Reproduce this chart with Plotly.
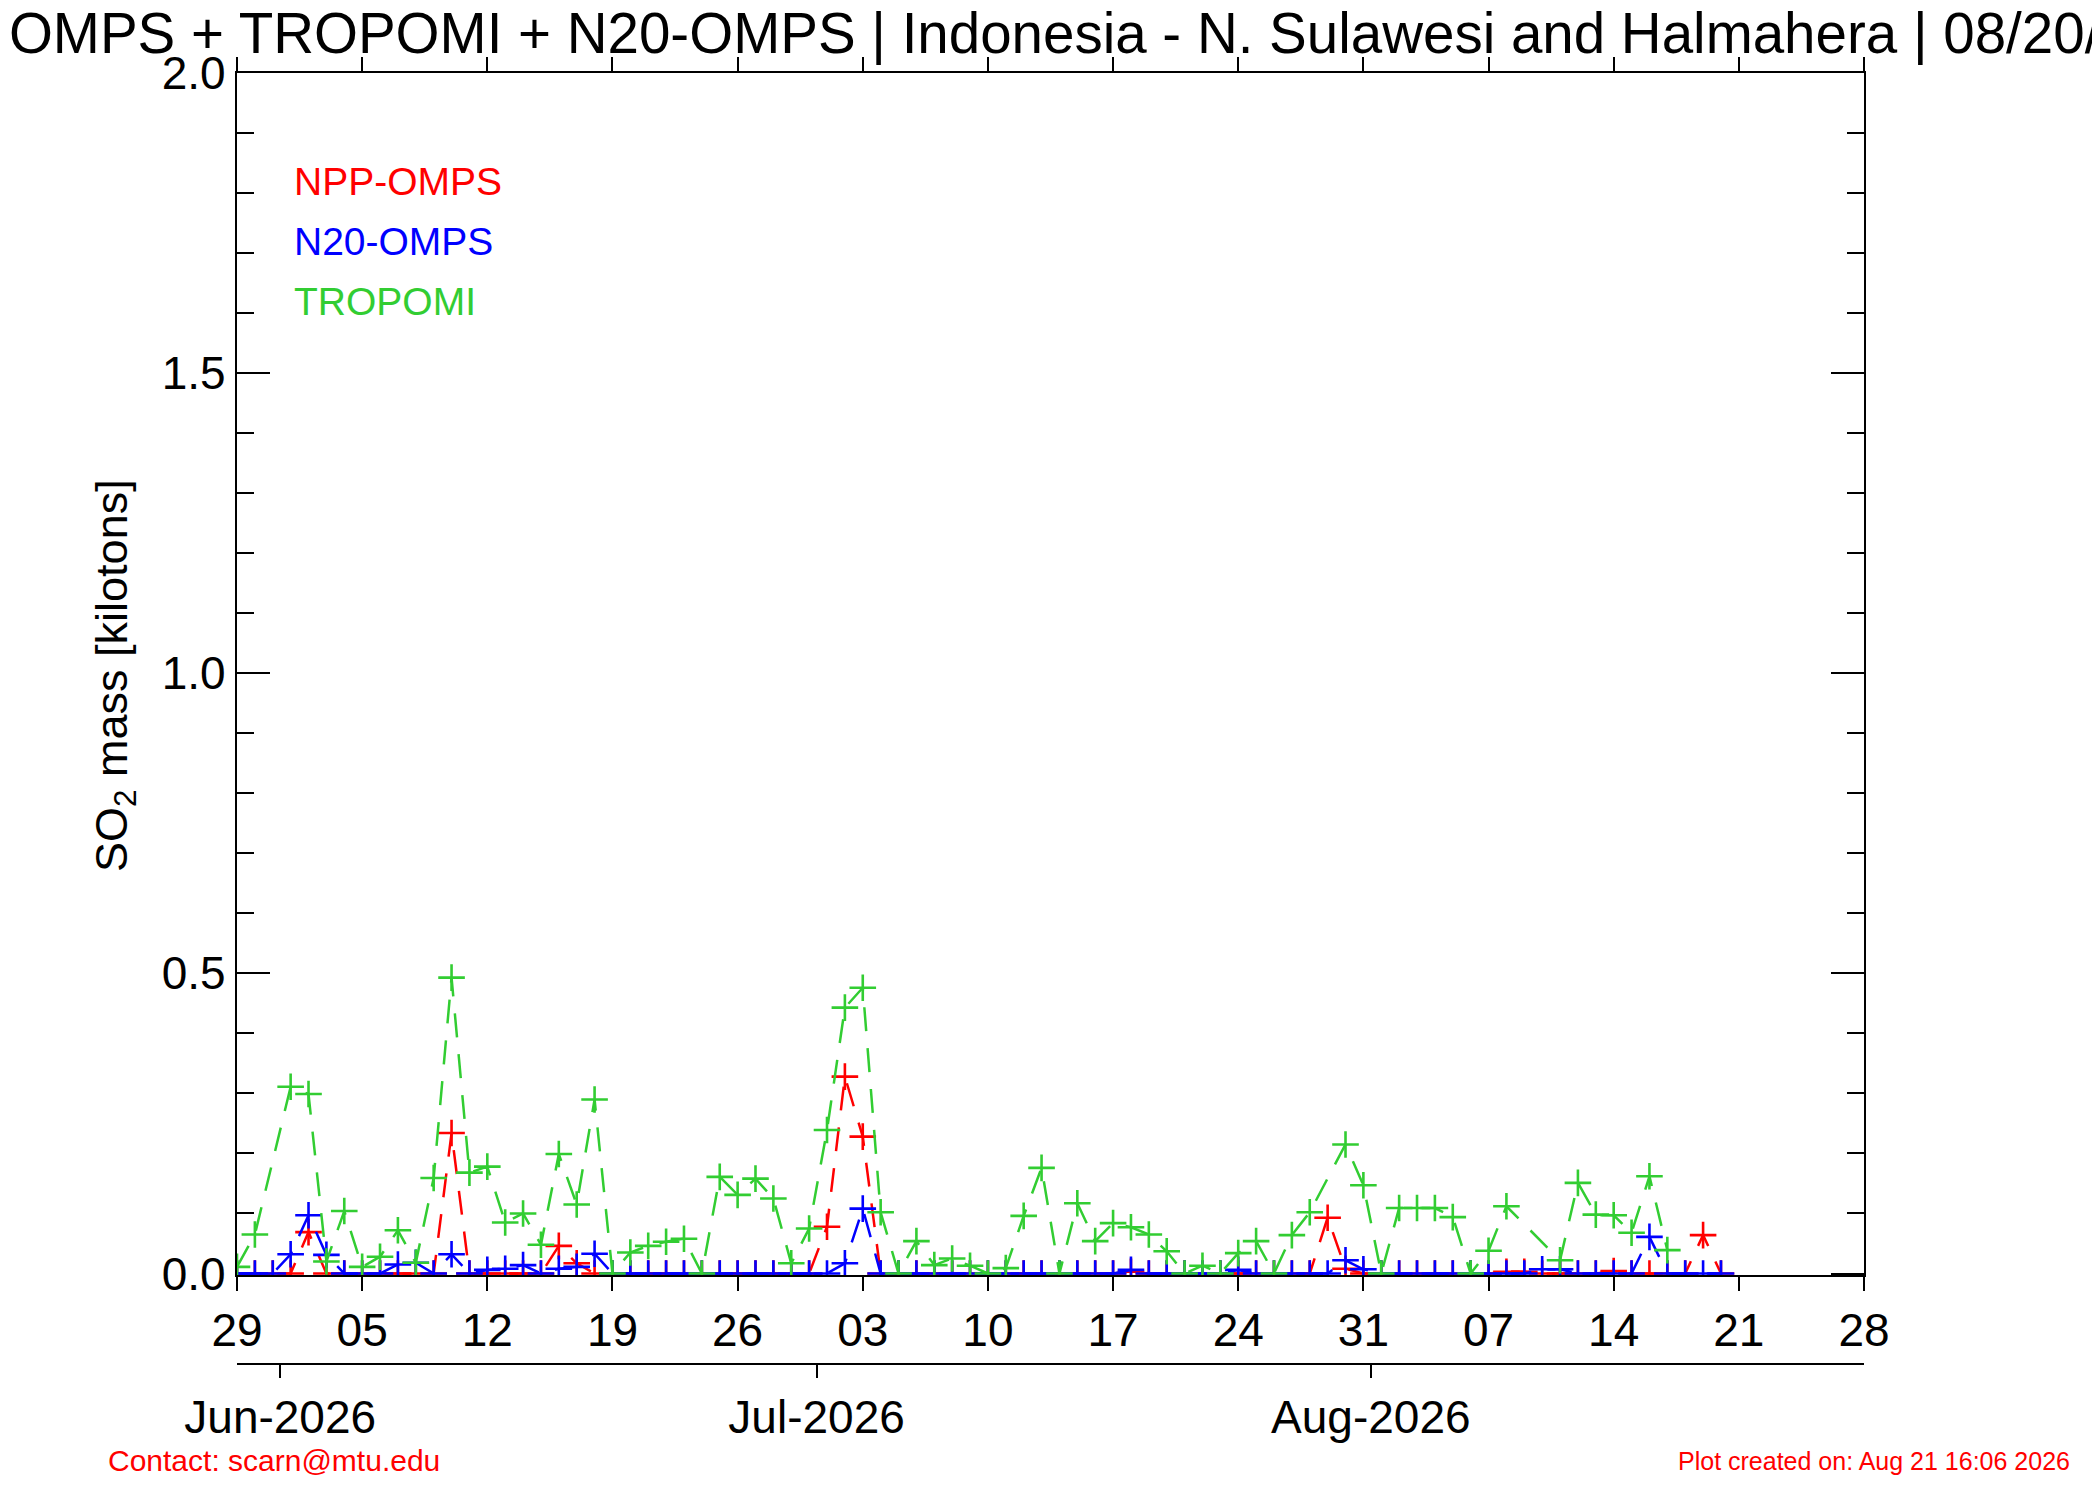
import pandas as pd
import plotly.graph_objects as go

# ---------------- data ----------------
start_date = "2026-05-29"
end_date = "2026-08-20"
dates = pd.date_range(start_date, end_date, freq="D")  # 84 daily dates

npp_omps = [0, 0, 0, 0, 0.069, 0, 0, 0, 0, 0,
            0, 0, 0.234, 0, 0, 0, 0, 0, 0.046, 0.017,
            0, 0, 0, 0, 0, 0, 0, 0, 0, 0,
            0, 0, 0, 0.078, 0.328, 0.228, 0, 0, 0, 0,
            0, 0, 0, 0, 0, 0, 0, 0, 0, 0,
            0.003, 0, 0, 0, 0, 0, 0, 0, 0, 0,
            0, 0.093, 0.008, 0, 0, 0, 0, 0, 0, 0,
            0, 0.003, 0.003, 0, 0, 0, 0, 0.004, 0, 0,
            0, 0, 0.064, 0]

n20_omps = [0, 0, 0, 0.032, 0.097, 0.031, 0, 0, 0, 0.015,
            0.018, 0, 0.032, 0, 0.006, 0.008, 0.014, 0, 0.008, 0.011,
            0.033, 0, 0, 0, 0, 0, 0, 0, 0, 0,
            0, 0, 0, 0, 0.017, 0.108, 0, 0, 0, 0,
            0, 0, 0, 0, 0, 0, 0, 0, 0, 0,
            0.006, 0, 0, 0, 0, 0, 0.006, 0, 0, 0,
            0, 0, 0.022, 0.007, 0, 0, 0, 0, 0, 0,
            0, 0, 0, 0.007, 0.007, 0, 0, 0, 0, 0.061,
            0, 0, 0, 0]

tropomi = [0.011, 0.065, None, 0.311, 0.299, 0.020, 0.104, 0.011, 0.028, 0.072,
           0.018, 0.159, 0.493, 0.168, 0.178, 0.085, 0.100, 0.048, 0.199, 0.115,
           0.290, 0.0, 0.035, 0.046, 0.053, 0.058, 0.0, 0.161, 0.131, 0.158,
           0.125, 0.017, 0.075, 0.239, 0.443, 0.476, 0.102, 0.0, 0.054, 0.014,
           0.025, 0.013, 0.0, 0.009, 0.096, 0.176, 0.0, 0.117, 0.054, 0.084,
           0.077, 0.065, 0.037, 0.0, 0.013, 0.0, 0.034, 0.054, 0.0, 0.064,
           0.102, None, 0.215, 0.147, 0.0, 0.109, 0.109, 0.109, 0.094, 0.0,
           0.038, 0.112, None, None, 0.022, 0.151, 0.098, 0.097, 0.068, 0.162,
           0.039, None, None, None]

month_ticks = ["2026-06-01", "2026-07-01", "2026-08-01"]
month_labels = ["Jun-2026", "Jul-2026", "Aug-2026"]

draw_order = ["NPP-OMPS", "N20-OMPS", "TROPOMI"]
legend_order = ["NPP-OMPS", "N20-OMPS", "TROPOMI"]

TITLE = "NPP-OMPS + TROPOMI + N20-OMPS | Indonesia - N. Sulawesi and Halmahera | 08/20/2026"
YTITLE = "SO<sub>2</sub> mass [kilotons]"
CONTACT = "Contact: scarn@mtu.edu"
CREATED = "Plot created on: Aug 21 16:06 2026"

# ---------------- style / layout ----------------
FONT = "Liberation Sans, Arial, Helvetica, sans-serif"
COLORS = {"NPP-OMPS": "#FF0000", "N20-OMPS": "#0000FF", "TROPOMI": "#32CD32"}

OFF = 8                      # page body margin
W, H = 2100 - 2 * OFF, 1500 - 2 * OFF
# target pixel positions in the browser window
WIN_LEFT, WIN_RIGHT, WIN_TOP, WIN_PLOTBOT, WIN_PAPERBOT = 237, 1864, 73, 1275, 1364
L = WIN_LEFT - OFF
R = W - (WIN_RIGHT - OFF)
T = WIN_TOP - OFF
B = H - (WIN_PAPERBOT - OFF)
ydom0 = (WIN_PAPERBOT - WIN_PLOTBOT) / (WIN_PAPERBOT - WIN_TOP)


def py(wy):  # paper y from window pixel row
    return (WIN_PAPERBOT - wy) / (WIN_PAPERBOT - WIN_TOP)


def px_(wx):  # paper x from window pixel column
    return (wx - WIN_LEFT) / (WIN_RIGHT - WIN_LEFT)


fig = go.Figure()
values = {"NPP-OMPS": npp_omps, "TROPOMI": tropomi, "N20-OMPS": n20_omps}
for name in draw_order:
    fig.add_trace(go.Scatter(
        x=dates, y=values[name], name=name, mode="lines+markers",
        connectgaps=True, cliponaxis=True,
        line=dict(color=COLORS[name], width=2.5, dash="24px,17px"),
        marker=dict(symbol="cross-thin", size=19,
                    line=dict(color=COLORS[name], width=2.6)),
        hoverinfo="x+y+name",
    ))

# invisible trace carrying the month axis
fig.add_trace(go.Scatter(x=month_ticks, y=[None] * len(month_ticks), xaxis="x2", yaxis="y",
                         mode="markers", showlegend=False, hoverinfo="skip"))

annotations = []
for i, name in enumerate(legend_order):
    annotations.append(dict(text=name, x=px_(292), y=py(181 + 60 * i), xref="paper", yref="paper",
                            xanchor="left", yanchor="middle", showarrow=False,
                            font=dict(size=39, color=COLORS[name], family=FONT)))
annotations.append(dict(text=YTITLE, x=px_(114), y=py(676), xref="paper", yref="paper",
                        xanchor="center", yanchor="middle", textangle=-90, showarrow=False,
                        font=dict(size=45, color="black", family=FONT)))
annotations.append(dict(text=CONTACT, x=px_(106), y=py(1460), xref="paper", yref="paper",
                        xanchor="left", yanchor="middle", showarrow=False,
                        font=dict(size=30, color="#FF0000", family=FONT)))
annotations.append(dict(text=CREATED, x=px_(2072), y=py(1461), xref="paper", yref="paper",
                        xanchor="right", yanchor="middle", showarrow=False,
                        font=dict(size=25, color="#FF0000", family=FONT)))

axis_common = dict(showgrid=False, zeroline=False, showline=True, linecolor="black",
                   linewidth=2.2, tickcolor="black", tickwidth=2.2)

fig.update_layout(
    width=W, height=H,
    margin=dict(l=L, r=R, t=T, b=B, pad=0),
    paper_bgcolor="white", plot_bgcolor="white",
    showlegend=False,
    font=dict(family=FONT, size=46, color="black"),
    title=dict(text=TITLE, x=0.5, xref="container", xanchor="center",
               y=1 - (33 - OFF) / H, yref="container", yanchor="middle",
               font=dict(size=56.5, color="black", family=FONT)),
    xaxis=dict(type="date", range=["2026-05-29", "2026-08-28"],
               tick0="2026-05-29", dtick=7 * 86400000, tickformat="%d",
               ticks="outside", ticklen=14, mirror="ticks", layer="below traces",
               anchor="y", tickfont=dict(size=46), **axis_common),
    xaxis2=dict(type="date", overlaying="x", anchor="free", position=0, side="bottom",
                range=["2026-05-29 14:00", "2026-08-28 14:00"],
                tickmode="array", tickvals=month_ticks, ticktext=month_labels,
                ticks="outside", ticklen=13, tickfont=dict(size=46), **axis_common),
    yaxis=dict(domain=[ydom0, 1], range=[-0.0025, 2], tick0=0, dtick=0.5, tickformat=".1f",
               ticks="inside", ticklen=33, mirror="ticks", layer="below traces",
               tickfont=dict(size=46), ticklabelstandoff=0,
               minor=dict(dtick=0.1, tick0=0, ticks="inside", ticklen=17, tickwidth=2.2,
                          tickcolor="black", showgrid=False),
               **axis_common),
    annotations=annotations,
)

fig.write_html("out.html", config={"displayModeBar": False})
